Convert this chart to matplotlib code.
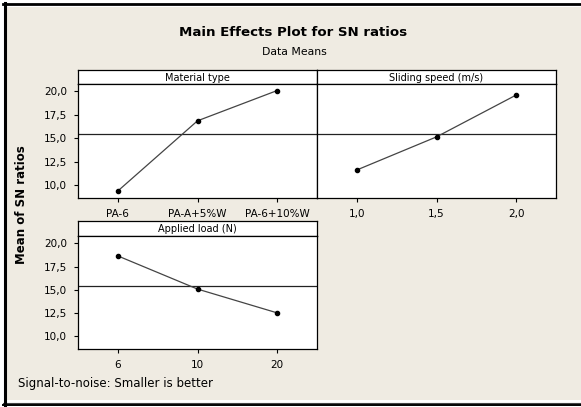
import matplotlib
matplotlib.use("Agg")
import matplotlib.pyplot as plt
from matplotlib.patches import Rectangle
from matplotlib.lines import Line2D

# values
material = ["PA-6", "PA-A+5%W", "PA-6+10%W"]
material_sn = [9.35, 16.86, 20.1]
speed = ["1,0", "1,5", "2,0"]
speed_sn = [11.6, 15.14, 19.62]
load = ["6", "10", "20"]
load_sn = [18.65, 15.07, 12.5]
yticks = [10.0, 12.5, 15.0, 17.5, 20.0]
ytick_labels = ["10,0", "12,5", "15,0", "17,5", "20,0"]

plt.rcParams['font.family'] = ['DejaVu Sans']
bg = '#efebe2'
W, H = 581, 407

fig = plt.figure(figsize=(W / 100, H / 100), dpi=100, facecolor='white')

grand_mean = sum(material_sn + speed_sn + load_sn) / 9.0


def px_box(x0, y0, x1, y1):
    return [x0 / W, 1 - y1 / H, (x1 - x0) / W, (y1 - y0) / H]


# beige panel and the frame lines around it
fig.patches.append(Rectangle((7 / W, 1 - 400 / H), (W - 7) / W, 393 / H,
                             transform=fig.transFigure, fc=bg, ec='none',
                             zorder=-10))


def hline(y, x0, x1, lw, c='black'):
    fig.lines.append(Line2D([x0 / W, x1 / W], [1 - y / H, 1 - y / H],
                            transform=fig.transFigure, color=c, lw=lw))


hline(4.2, 3, W, 2.0)
hline(402.5, 3, W, 0.8, '#444444')
hline(405.3, 3, W, 1.4)
fig.lines.append(Line2D([4.6 / W, 4.6 / W], [1 - 3 / H, 1 - 406 / H],
                        transform=fig.transFigure, color='black', lw=2.2))


def panel(x0, x1, strip_top, top, bottom, title, labels, values, show_y):
    s = fig.add_axes(px_box(x0, strip_top, x1, top))
    s.set_facecolor('white')
    s.set_xticks([])
    s.set_yticks([])
    for sp in s.spines.values():
        sp.set_linewidth(0.9)
    s.text(0.5, 0.45, title, ha='center', va='center', fontsize=7.0,
           transform=s.transAxes)

    ax = fig.add_axes(px_box(x0, top, x1, bottom))
    ax.set_facecolor('white')
    xs = [1, 2, 3]
    ax.axhline(grand_mean, color='#222222', lw=0.9, zorder=1)
    ax.plot(xs, values, color='#444444', lw=0.9, marker='o', ms=3,
            mfc='black', mec='black', zorder=3)
    ax.set_xlim(0.5, 3.5)
    ax.set_ylim(8.6, 20.8)
    ax.set_xticks(xs)
    ax.set_xticklabels(labels, fontsize=7.5)
    ax.set_yticks(yticks)
    if show_y:
        ax.set_yticklabels(ytick_labels, fontsize=7.5)
    else:
        ax.tick_params(axis='y', left=False, labelleft=False)
    ax.tick_params(length=3, width=0.8, pad=5)
    for sp in ax.spines.values():
        sp.set_linewidth(0.9)
    return ax


panel(78, 317, 70, 84, 198, "Material type", material, material_sn, True)
panel(317, 556, 70, 84, 198, "Sliding speed (m/s)", speed, speed_sn, False)
panel(78, 317, 221, 236, 349, "Applied load (N)", load, load_sn, True)

fig.text(293 / W, 1 - 33 / H, "Main Effects Plot for SN ratios", ha='center',
         va='center', fontsize=9.6, fontweight='bold')
fig.text(294 / W, 1 - 52 / H, "Data Means", ha='center', va='center',
         fontsize=7.8)
fig.text(22 / W, 1 - 205 / H, "Mean of SN ratios", ha='center', va='center',
         rotation=90, fontsize=8.5, fontweight='bold')
fig.text(18 / W, 1 - 383 / H, "Signal-to-noise: Smaller is better",
         ha='left', va='center', fontsize=8.5)

fig.savefig("out.png", dpi=100, facecolor='white')
